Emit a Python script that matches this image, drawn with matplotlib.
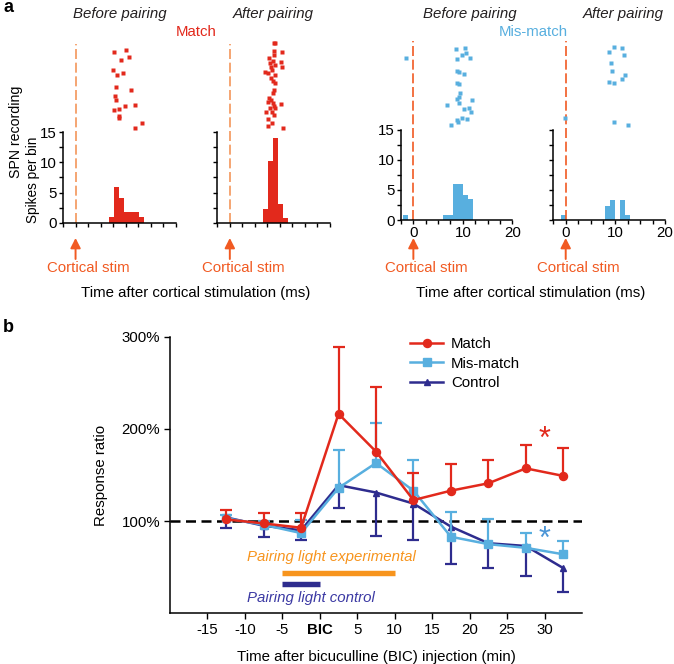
import numpy as np
import matplotlib
matplotlib.use('Agg')
import matplotlib.pyplot as plt
from matplotlib.lines import Line2D

plt.rcParams['font.family'] = ['Liberation Sans', 'DejaVu Sans']
plt.rcParams['font.size'] = 10.8

W, H = 674, 664  # canvas in pixels (dpi 100)

# ---------------- panel a : PSTH + raster ----------------
bin_width = 1.0
match_before_left = [6.6, 7.6, 8.6, 9.6, 10.6, 11.6, 12.6]
match_before_counts = [0.9, 5.9, 4.15, 1.7, 1.7, 1.7, 0.9]
match_after_left = [6.6, 7.6, 8.6, 9.6, 10.6]
match_after_counts = [2.3, 10.3, 14.1, 3.1, 0.8]
mis_before_left = [-2, 6, 7, 8, 9, 10, 11]
mis_before_counts = [0.75, 0.75, 0.75, 5.9, 5.9, 4.2, 3.4]
mis_after_left = [-1, 8, 9, 11, 12]
mis_after_counts = [0.75, 2.4, 3.25, 3.25, 0.75]

# raster spikes: time (ms) and trial
match_before_t = [7.7, 10.0, 9.05, 10.7, 7.4, 9.4, 8.3, 8.1, 11.1, 7.9, 8.1, 9.9,
                  11.8, 7.7, 8.6, 8.65, 8.7, 13.2, 11.9]
match_before_trial = [26.1, 26.7, 23.2, 24.2, 20.0, 19.1, 18.4, 14.2, 13.2, 11.3, 9.9, 7.9,
                      8.4, 6.6, 7.0, 4.7, 3.9, 2.2, 0.8]
match_after_t = [8.8, 9.06, 8.8, 10.4, 8.8, 7.86, 8.66, 10.3, 8.0, 9.06, 8.3, 10.45,
                 7.0, 8.5, 7.66, 9.0, 8.2, 8.66, 9.06, 8.86, 8.66, 7.86, 8.3, 7.66,
                 8.66, 10.3, 8.8, 8.0, 9.06, 7.2, 8.5, 8.8, 7.66, 8.46, 7.66, 10.65]
match_after_trial = [28.9, 29.1, 26.4, 26.1, 25.0, 23.9, 23.1, 22.8, 22.2, 21.7, 21.1, 20.9,
                     19.4, 20.0, 18.9, 18.3, 17.2, 16.4, 15.6, 13.3, 12.2, 10.8, 10.0, 9.4,
                     8.9, 8.6, 8.0, 7.2, 7.2, 6.1, 6.1, 5.0, 3.7, 2.2, 1.3, 0.8]
mis_before_t = [-1.5, 8.6, 10.4, 9.8, 8.75, 10.6, 11.5, 8.75, 9.3, 10.2, 8.75, 9.3, 9.4,
                9.3, 8.9, 11.8, 6.9, 9.2, 10.3, 11.2, 11.7, 8.75, 9.0, 9.8, 10.8, 7.6]
mis_before_trial = [24.1, 26.9, 27.4, 25.0, 23.6, 25.6, 23.9, 19.7, 19.2, 18.7, 15.8, 15.4, 12.2,
                    11.1, 10.4, 10.0, 8.4, 8.9, 7.0, 7.4, 6.0, 3.2, 2.8, 3.9, 3.6, 1.7]
mis_after_t = [-0.1, 8.75, 9.7, 11.4, 11.7, 9.2, 9.3, 8.75, 9.8, 11.4, 12.0, 9.8, 12.6]
mis_after_trial = [3.9, 26.1, 27.8, 27.4, 25.0, 22.2, 19.7, 16.0, 15.6, 16.9, 18.3, 2.6, 1.6]

# ---------------- panel b : response ratio ----------------
b_time = [-12.5, -7.5, -2.5, 2.5, 7.5, 12.5, 17.5, 22.5, 27.5, 32.5]
match_mean = [101.8, 97.5, 92.8, 216.3, 175.4, 122.8, 133, 141, 157.2, 149]
match_sem = [10, 11, 16, 72, 70, 29, 29, 25, 25, 30]
mis_mean = [103, 96, 87, 136, 163, 133, 83, 75, 71, 64]
mis_sem = [4, 4, 14, 41, 43, 33, 27, 27, 16, 14]
ctrl_mean = [104, 95, 90, 139, 131, 119, 94, 76, 73, 49]
ctrl_sem = [11, 12, 10, 25, 47, 40, 41, 27, 33, 26]
b_xticks = [-15, -10, -5, 0, 5, 10, 15, 20, 25, 30]
b_xticklabels = ['-15', '-10', '-5', 'BIC', '5', '10', '15', '20', '25', '30']
b_yticks = [100, 200, 300]
b_yticklabels = ['100%', '200%', '300%']
exp_light = [-5, 10]
ctrl_light = [-5, 0]

RED = '#e2291c'
BLUE = '#58afdf'
NAVY = '#2e2c8e'
ORANGE = '#f15a22'
AMBER = '#f7941d'


def fx(x):
    return x / W


def fy(y):
    return 1 - y / H


def rect(left, top, right, bottom):
    return [left / W, 1 - bottom / H, (right - left) / W, (bottom - top) / H]


fig = plt.figure(figsize=(W / 100, H / 100), dpi=100)


def hist_panel(left, right, top, bottom, edges, counts, times, trials, color,
               ylabels, xlabels, dash_color):
    ax = fig.add_axes(rect(left, top, right, bottom))
    ax.bar(edges, counts, width=bin_width, align='edge', color=color, linewidth=0)
    ax.set_xlim(-2.5, 20)
    ax.set_ylim(0, 15)
    ax.set_xticks(np.arange(-2.5, 20.1, 2.5))
    ax.set_yticks(np.arange(0, 15.1, 2.5))
    if xlabels:
        ax.set_xticklabels(['' if v % 10 else '%d' % v for v in np.arange(-2.5, 20.1, 2.5)])
    else:
        ax.set_xticklabels([])
    if ylabels:
        ax.set_yticklabels(['' if v % 5 else '%d' % v for v in np.arange(0, 15.1, 2.5)])
    else:
        ax.set_yticklabels([])
    for s in ['top', 'right']:
        ax.spines[s].set_visible(False)
    for s in ['left', 'bottom']:
        ax.spines[s].set_linewidth(1.1)
    ax.tick_params(direction='out', length=3, width=1, pad=1.5, labelsize=10.8)
    ax.plot([0, 0], [0, 29.7], ls=(0, (6, 2.2)), lw=1.2, color=dash_color, clip_on=False)
    # stimulus arrow and label under the axis
    ax.annotate('', xy=(0, fy(238)), xycoords=('data', 'figure fraction'),
                xytext=(0, fy(259)), textcoords=('data', 'figure fraction'),
                arrowprops=dict(arrowstyle='-|>,head_length=0.55,head_width=0.28',
                                color=ORANGE, lw=1.4, shrinkA=0, shrinkB=0))
    ax.annotate('Cortical stim', xy=(0, fy(268)), xycoords=('data', 'figure fraction'),
                xytext=(9.4, 0), textcoords='offset points', ha='center', va='center',
                color=ORANGE, fontsize=10.8)
    # raster above
    ar = fig.add_axes(rect(left, 40, right, 130))
    ar.plot(times, trials, ls='none', marker='s', ms=2.5, color=color, mec='none')
    ar.set_xlim(-2.5, 20)
    ar.set_ylim(0, 30)
    ar.axis('off')
    return ax


hist_panel(63, 176, 132.3, 222.7, match_before_left, match_before_counts,
           match_before_t, match_before_trial, RED, True, False, '#f4965a')
hist_panel(217.3, 330, 132.3, 222.7, match_after_left, match_after_counts,
           match_after_t, match_after_trial, RED, False, False, '#f4965a')
hist_panel(401, 512.3, 129.5, 220, mis_before_left, mis_before_counts,
           mis_before_t, mis_before_trial, BLUE, True, True, ORANGE)
hist_panel(553.3, 665, 129.5, 220, mis_after_left, mis_after_counts,
           mis_after_t, mis_after_trial, BLUE, False, True, ORANGE)

title_kw = dict(ha='center', va='center', fontsize=10.8, style='italic', color='#231f20')
fig.text(fx(120), fy(14), 'Before pairing', **title_kw)
fig.text(fx(273), fy(14), 'After pairing', **title_kw)
fig.text(fx(470), fy(14), 'Before pairing', **title_kw)
fig.text(fx(623.5), fy(14), 'After pairing', **title_kw)
fig.text(fx(196.5), fy(32.3), 'Match', ha='center', va='center', color=RED, fontsize=10.8)
fig.text(fx(533), fy(32.3), 'Mis-match', ha='center', va='center', color=BLUE, fontsize=10.8)
fig.text(fx(16), fy(132), 'SPN recording', rotation=90, ha='center', va='center', fontsize=10.2)
fig.text(fx(33), fy(180), 'Spikes per bin', rotation=90, ha='center', va='center', fontsize=9.8)
fig.text(fx(195.5), fy(293.3), 'Time after cortical stimulation (ms)', ha='center', va='center')
fig.text(fx(531), fy(293.3), 'Time after cortical stimulation (ms)', ha='center', va='center')
fig.text(fx(8), fy(8), 'a', ha='center', va='center', fontsize=13, fontweight='bold')
fig.text(fx(8), fy(327), 'b', ha='center', va='center', fontsize=13, fontweight='bold')

# ---------------- panel b ----------------
axb = fig.add_axes(rect(170, 336.7, 582, 613.3))
axb.set_xlim(-20, 35)
axb.set_ylim(0, 300)
axb.axhline(100, ls=(0, (4, 2.2)), lw=1.8, color='black', zorder=1)

match_top = np.array(match_mean) + np.array(match_sem)
mis_top = np.array(mis_mean) + np.array(mis_sem)
ctrl_bot = np.array(ctrl_mean) - np.array(ctrl_sem)

axb.vlines(b_time, ctrl_bot, ctrl_mean, color=NAVY, lw=1.6, zorder=2)
axb.plot(b_time, ctrl_bot, ls='none', marker='_', ms=8, mew=1.6, color=NAVY, zorder=2)
axb.plot(b_time, ctrl_mean, '-^', color=NAVY, lw=1.8, ms=4.5, zorder=2)

axb.vlines(b_time, mis_mean, mis_top, color=BLUE, lw=1.6, zorder=3)
axb.plot(b_time, mis_top, ls='none', marker='_', ms=8, mew=1.6, color=BLUE, zorder=3)
axb.plot(b_time, mis_mean, '-s', color=BLUE, lw=1.8, ms=5.2, zorder=3)

axb.vlines(b_time, match_mean, match_top, color=RED, lw=1.6, zorder=4)
axb.plot(b_time, match_top, ls='none', marker='_', ms=8, mew=1.6, color=RED, zorder=4)
axb.plot(b_time, match_mean, '-o', color=RED, lw=1.8, ms=5.8, zorder=4)

axb.plot(exp_light, [44, 44], color=AMBER, lw=3.9, solid_capstyle='butt')
axb.plot(ctrl_light, [32.2, 32.2], color=NAVY, lw=3.9, solid_capstyle='butt')
axb.text(-9.7, 61, 'Pairing light experimental', color=AMBER, style='italic', va='center')
axb.text(-9.7, 16.6, 'Pairing light control', color='#3b39a3', style='italic', va='center')

axb.text(30, 188, '*', color=RED, fontsize=22, ha='center', va='center')
axb.text(30, 79.7, '*', color='#4b95d6', fontsize=22, ha='center', va='center')

axb.set_xticks(b_xticks)
axb.set_xticklabels(b_xticklabels)
axb.get_xticklabels()[3].set_fontweight('bold')
axb.set_yticks(b_yticks)
axb.set_yticklabels(b_yticklabels)
for s in ['top', 'right']:
    axb.spines[s].set_visible(False)
for s in ['left', 'bottom']:
    axb.spines[s].set_linewidth(1.1)
axb.tick_params(direction='out', length=4, width=1, pad=3, labelsize=10.8)
axb.set_xlabel('Time after bicuculline (BIC) injection (min)', labelpad=9)
axb.set_ylabel('Response ratio', labelpad=10)

handles = [Line2D([], [], color=RED, marker='o', lw=1.8, ms=5.8),
           Line2D([], [], color=BLUE, marker='s', lw=1.8, ms=5.2),
           Line2D([], [], color=NAVY, marker='^', lw=1.8, ms=4.5)]
fig.legend(handles, ['Match', 'Mis-match', 'Control'], loc='upper left',
           bbox_to_anchor=(fx(410), fy(337)), frameon=False, borderpad=0,
           borderaxespad=0, handlelength=2.2, handletextpad=0.55, labelspacing=0.38,
           fontsize=10.8)

fig.savefig('out.png', dpi=100)
